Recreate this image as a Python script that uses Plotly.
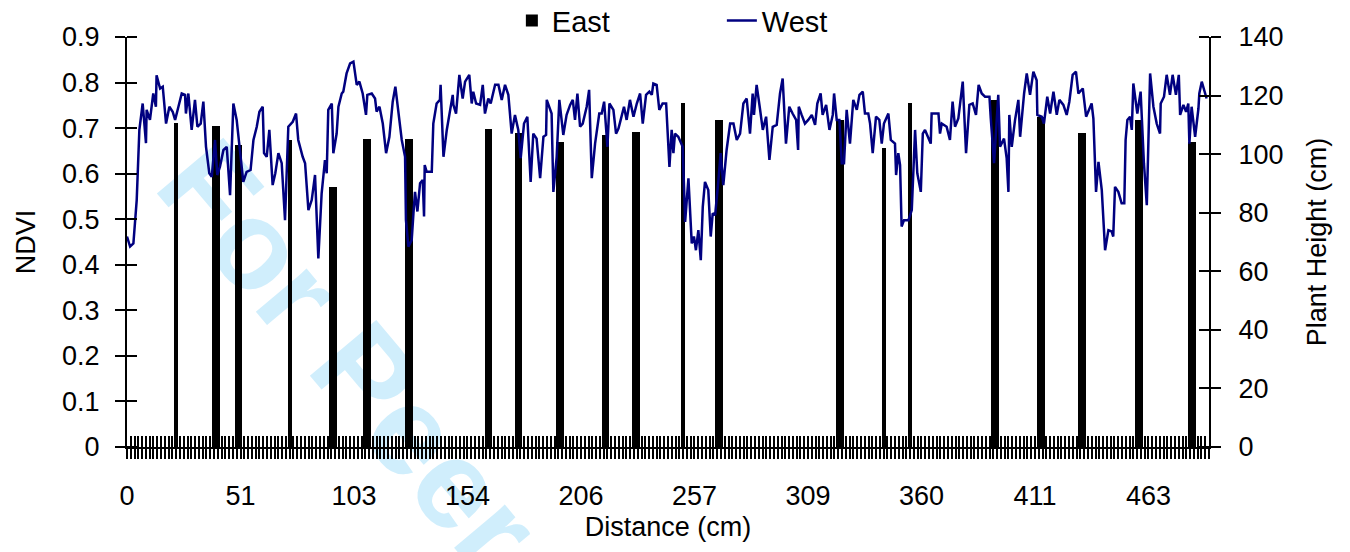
import plotly.graph_objects as go

# ---------------- data ----------------
step_cm = 12 / 7            # spacing of the distance categories
n_categories = 287
x_max_cm = (n_categories - 1) * step_cm

tick_values_cm = [0, 360/7, 720/7, 1080/7, 1440/7, 1800/7, 2160/7, 2520/7, 2880/7, 3240/7]
tick_labels = ["0", "51", "103", "154", "206", "257", "309", "360", "411", "463"]

# East: plant height (cm) bars
east_distance_cm = [22.3, 39.4, 41.1, 49.7, 51.4, 73.7, 92.6, 94.3, 108.0, 109.7,
                    126.9, 128.6, 162.9, 164.6, 176.6, 178.3, 195.4, 197.1, 216.0, 217.7,
                    229.7, 231.4, 252.0, 267.4, 269.1, 322.3, 324.0, 342.9, 354.9,
                    392.6, 394.3, 413.1, 414.9, 432.0, 433.7, 457.7, 459.4, 481.7, 483.4]
east_height_cm = [110.7, 109.6, 109.6, 103.0, 103.0, 105.0, 88.9, 88.9, 105.3, 105.3,
                  105.3, 105.3, 108.5, 108.5, 107.3, 107.3, 104.3, 104.3, 106.5, 106.5,
                  107.6, 107.6, 117.4, 111.7, 111.7, 111.7, 111.7, 102.0, 117.4,
                  118.5, 118.5, 112.8, 112.8, 107.1, 107.1, 111.7, 111.7, 104.3, 104.3]

# West: NDVI line
west_distance_cm = [
    0.0, 1.4, 2.9, 4.4, 5.6, 7.1, 8.6, 8.9, 10.4, 11.9, 13.1, 13.4, 15.0, 16.2, 17.7, 19.2,
    20.7, 21.8, 23.3, 24.8, 26.3, 26.7, 27.8, 29.3, 30.8, 31.9, 33.4, 34.6, 35.8, 37.3, 38.4,
    39.9, 40.9, 42.1, 43.7, 45.2, 46.7, 48.2, 49.7, 51.2, 52.7, 54.2, 56.0, 57.3, 58.8, 60.0,
    61.5, 62.1, 63.3, 64.5, 66.0, 67.2, 68.6, 70.1, 71.6, 73.1, 75.1, 76.6, 77.6, 79.6, 80.7,
    82.2, 83.7, 85.2, 86.7, 88.2, 89.7, 90.5, 91.2, 92.8, 93.5, 95.0, 95.8, 97.3, 98.0, 99.5,
    101.1, 102.6, 104.1, 105.3, 106.8, 108.3, 108.9, 110.9, 112.4, 113.1, 114.4, 115.9, 117.4,
    118.9, 120.4, 121.6, 123.0, 124.5, 126.0, 126.4, 127.5, 129.0, 129.8, 130.5, 131.6, 132.8,
    134.0, 134.6, 134.9, 135.8, 138.1, 138.8, 140.3, 141.8, 142.1, 143.4, 144.9, 146.4, 147.6,
    147.9, 149.1, 150.6, 152.1, 153.2, 155.1, 156.2, 156.9, 158.2, 160.0, 161.2, 162.2, 163.7,
    164.8, 166.8, 168.3, 169.8, 171.3, 172.8, 174.3, 175.8, 177.3, 178.4, 179.9, 181.4, 182.9,
    184.1, 185.6, 187.2, 188.7, 189.9, 190.2, 192.4, 193.2, 194.7, 195.9, 197.7, 199.2, 200.8,
    202.0, 203.0, 204.1, 205.3, 206.5, 208.3, 209.4, 210.6, 212.1, 214.0, 215.1, 216.2, 217.7,
    218.6, 220.4, 221.6, 222.7, 223.7, 225.2, 226.4, 227.9, 229.5, 231.0, 232.5, 233.7, 235.2,
    236.7, 237.8, 238.5, 240.0, 241.2, 242.7, 244.3, 245.8, 246.8, 247.6, 248.3, 249.8,
    251.8, 252.4, 252.9, 254.4, 255.9, 256.9, 257.8, 258.9, 260.0, 260.9, 261.9, 263.4, 264.5,
    265.4, 266.5, 268.0, 269.0, 270.2, 271.7, 273.3, 274.8, 276.3, 277.8, 279.3, 280.8, 282.3,
    283.5, 284.1, 285.3, 286.8, 288.1, 289.6, 291.1, 292.6, 294.4, 295.9, 297.1, 298.6, 300.1,
    301.6, 303.2, 304.1, 304.4, 305.7, 307.2, 308.7, 310.3, 311.8, 312.8, 314.3, 315.2, 316.8,
    318.3, 319.8, 320.4, 321.6, 322.8, 323.9, 324.9, 326.1, 327.6, 329.1, 330.7, 331.9, 333.4,
    334.4, 335.9, 336.7, 337.9, 339.4, 340.9, 342.0, 343.0, 345.0, 346.1, 348.0, 348.5, 349.5,
    350.3, 351.0, 352.1, 354.1, 355.6, 357.1, 358.1, 359.7, 360.6, 361.6, 364.2, 364.6, 367.7,
    368.4, 369.2, 371.4, 372.9,
    374.1, 375.2, 376.7, 378.7, 380.2, 381.7, 383.2, 384.7, 385.9, 387.3, 388.8, 390.8, 391.4,
    392.9, 394.8, 395.6, 397.4, 398.6, 399.4, 399.8, 400.9, 402.4, 403.9, 404.7, 406.5, 407.7,
    409.2, 410.7, 412.2, 412.5, 414.5, 415.5, 417.0, 418.3, 419.8, 421.3, 422.5, 424.3, 425.8,
    427.0, 428.5, 430.0, 431.1, 433.1, 434.6, 437.1, 437.9, 439.1, 440.2, 441.7, 443.2, 444.7,
    446.2, 446.9, 447.7, 449.2, 450.7, 451.9, 452.5, 453.3, 454.5, 455.3, 456.0, 457.8, 459.3,
    460.8, 462.1, 463.6, 465.1, 466.6, 468.1, 468.4, 469.9, 471.1, 472.6, 473.8, 475.3, 476.6,
    477.2, 478.7, 479.9, 480.9, 481.4, 482.4, 484.0, 485.5, 485.9, 487.0, 489.2]
west_ndvi = [
    0.462, 0.440, 0.447, 0.542, 0.696, 0.754, 0.667, 0.740, 0.718, 0.776, 0.747, 0.816, 0.787, 0.791, 0.710, 0.747,
    0.736, 0.718, 0.747, 0.776, 0.773, 0.732, 0.776, 0.696, 0.762, 0.703, 0.710, 0.758, 0.659, 0.601, 0.593,
    0.674, 0.597, 0.615, 0.652, 0.659, 0.553, 0.754, 0.718, 0.652, 0.582, 0.604, 0.608, 0.674, 0.703, 0.736,
    0.747, 0.645, 0.637, 0.696, 0.575, 0.601, 0.645, 0.623, 0.498, 0.703, 0.714, 0.732, 0.674, 0.637, 0.623,
    0.520, 0.542, 0.597, 0.414, 0.557, 0.630, 0.601, 0.740, 0.754, 0.645, 0.688, 0.747, 0.776, 0.780, 0.820,
    0.842, 0.846, 0.795, 0.802, 0.776, 0.729, 0.773, 0.776, 0.765, 0.736, 0.747, 0.710, 0.645,
    0.681, 0.758, 0.791, 0.732, 0.674, 0.637, 0.498, 0.440, 0.454, 0.513, 0.560, 0.517, 0.579,
    0.586, 0.506, 0.619, 0.604, 0.604, 0.710, 0.754, 0.762, 0.795, 0.637, 0.696, 0.740, 0.773,
    0.751, 0.732, 0.817, 0.765, 0.802, 0.817, 0.754, 0.780, 0.754, 0.751, 0.795, 0.732, 0.765,
    0.754, 0.795, 0.795, 0.762, 0.795, 0.773, 0.688, 0.729, 0.696, 0.634, 0.710, 0.725, 0.582,
    0.688, 0.677, 0.590, 0.681, 0.685, 0.762, 0.732, 0.560, 0.637, 0.762, 0.685, 0.729, 0.751,
    0.762, 0.718, 0.776, 0.703, 0.710, 0.747, 0.784, 0.590, 0.666, 0.732, 0.732, 0.758, 0.659,
    0.754, 0.740, 0.688, 0.699, 0.718, 0.747, 0.718, 0.762, 0.725, 0.754, 0.776, 0.710, 0.773,
    0.780, 0.773, 0.798, 0.795, 0.740, 0.754, 0.754, 0.615, 0.696, 0.645, 0.688, 0.681,
    0.659, 0.571, 0.494, 0.590, 0.447, 0.462, 0.432, 0.476, 0.410, 0.527, 0.582, 0.564, 0.462,
    0.513, 0.509, 0.586, 0.645, 0.575, 0.652, 0.710, 0.710, 0.674, 0.688, 0.754, 0.765, 0.688,
    0.776, 0.729, 0.795, 0.743, 0.696, 0.725, 0.630, 0.703, 0.707, 0.776, 0.809, 0.666, 0.747,
    0.732, 0.718, 0.652, 0.747, 0.729, 0.710, 0.718, 0.729, 0.707, 0.754, 0.776, 0.729, 0.751,
    0.696, 0.729, 0.776, 0.718, 0.718, 0.623, 0.623, 0.740, 0.666, 0.762, 0.740, 0.773, 0.780,
    0.732, 0.732, 0.710, 0.645, 0.725, 0.718, 0.666, 0.710, 0.732, 0.674, 0.666, 0.597, 0.645,
    0.619, 0.484, 0.498, 0.498, 0.520, 0.696, 0.601, 0.560, 0.688, 0.696, 0.666, 0.732, 0.732,
    0.688, 0.710, 0.703, 0.674,
    0.758, 0.703, 0.721, 0.802, 0.645, 0.751, 0.754, 0.729, 0.795, 0.776, 0.769, 0.769, 0.721,
    0.623, 0.773, 0.659, 0.677, 0.634, 0.560, 0.729, 0.659, 0.718, 0.762, 0.681, 0.776, 0.820,
    0.773, 0.824, 0.805, 0.729, 0.725, 0.710, 0.769, 0.732, 0.780, 0.729, 0.762, 0.751, 0.729,
    0.758, 0.817, 0.824, 0.776, 0.787, 0.725, 0.754, 0.721, 0.560, 0.626, 0.564, 0.432, 0.476,
    0.473, 0.462, 0.571, 0.560, 0.535, 0.535, 0.674, 0.718, 0.725, 0.696, 0.798, 0.732, 0.780,
    0.623, 0.531, 0.820, 0.747, 0.710, 0.688, 0.754, 0.769, 0.817, 0.773, 0.817, 0.773, 0.817,
    0.729, 0.751, 0.736, 0.754, 0.666, 0.747, 0.681, 0.743, 0.776, 0.802, 0.765]

# ---------------- figure ----------------
FONT = "Liberation Sans, Arial, sans-serif"
fig = go.Figure()

fig.add_trace(go.Bar(
    name="East", x=east_distance_cm, y=east_height_cm,
    width=1.75, marker=dict(color="black", line=dict(width=0)),
    xaxis="x", yaxis="y"))

fig.add_trace(go.Scatter(
    name="West", x=west_distance_cm, y=west_ndvi, mode="lines",
    line=dict(color="#000080", width=2.5),
    xaxis="x", yaxis="y2"))

# empty helper traces so that the tick-only overlay axes get drawn (crossing tick marks)
fig.add_trace(go.Scatter(x=[], y=[], xaxis="x2", yaxis="y3", showlegend=False, hoverinfo="skip"))
fig.add_trace(go.Scatter(x=[], y=[], xaxis="x", yaxis="y4", showlegend=False, hoverinfo="skip"))

axis_common = dict(showgrid=False, zeroline=False, color="black", automargin=False)
TW = 2.4

fig.update_layout(
    width=1342, height=544,
    margin=dict(l=119, r=141, t=29, b=105, autoexpand=False),
    paper_bgcolor="white", plot_bgcolor="white",
    font=dict(family=FONT, size=27, color="black"),
    showlegend=True,
    legend=dict(orientation="h", x=0.3557, xanchor="left", y=1.040, yanchor="middle",
                font=dict(size=29), entrywidth=165, entrywidthmode="pixels",
                bgcolor="rgba(0,0,0,0)", traceorder="normal"),
    bargap=0,
    xaxis=dict(**axis_common, range=[0, x_max_cm], anchor="y",
               showline=True, linewidth=2, linecolor="black",
               tickmode="array", tickvals=tick_values_cm, ticktext=tick_labels,
               ticks="outside", ticklen=10, tickwidth=TW, tickcolor="black",
               ticklabelstandoff=14,
               minor=dict(dtick=step_cm, tick0=0, ticks="outside", ticklen=10,
                          tickwidth=TW, tickcolor="black"),
               title=dict(text="Distance (cm)", standoff=7, font=dict(size=27))),
    xaxis2=dict(**axis_common, range=[0, x_max_cm], overlaying="x", anchor="y",
                side="bottom", showline=False, tickmode="linear", tick0=0, dtick=step_cm,
                ticks="inside", ticklen=11, tickwidth=TW, tickcolor="black",
                showticklabels=False),
    yaxis=dict(**axis_common, range=[0, 140], side="right", anchor="x",
               tickmode="linear", tick0=0, dtick=20,
               showline=True, linewidth=2, linecolor="black",
               ticks="outside", ticklen=10, tickwidth=2, tickcolor="black",
               ticklabelstandoff=12,
               minor=dict(tick0=1e-7, dtick=20, ticks="inside", ticklen=10,
                          tickwidth=2, tickcolor="black"),
               title=dict(text="Plant Height (cm)", standoff=25, font=dict(size=27))),
    yaxis2=dict(**axis_common, range=[0, 0.9], side="left", overlaying="y", anchor="x",
                tickmode="linear", tick0=0, dtick=0.1,
                showline=True, linewidth=2, linecolor="black",
                ticks="outside", ticklen=10, tickwidth=2, tickcolor="black",
                ticklabelstandoff=10,
                minor=dict(tick0=1e-9, dtick=0.1, ticks="inside", ticklen=10,
                           tickwidth=2, tickcolor="black"),
                title=dict(text="NDVI", standoff=19, font=dict(size=27))),
    yaxis3=dict(**axis_common, range=[0, 140], side="right", overlaying="y", anchor="x",
                tickmode="linear", tick0=0, dtick=20, showline=False,
                ticks="inside", ticklen=10, tickwidth=2, tickcolor="black",
                showticklabels=False),
    yaxis4=dict(**axis_common, range=[0, 0.9], side="left", overlaying="y", anchor="x",
                tickmode="linear", tick0=0, dtick=0.1, showline=False,
                ticks="inside", ticklen=10, tickwidth=2, tickcolor="black",
                showticklabels=False),
)

# journal watermark, drawn beneath the data
fig.add_shape(type="line", xref="paper", yref="paper",
              x0=0.0098, y0=0.6059, x1=0.5446, y1=-1.0756,
              line=dict(width=0, color="rgba(0,0,0,0)"), layer="below",
              label=dict(text="<b>For Peer Review</b>", textposition="start",
                         yanchor="bottom",
                         font=dict(family=FONT, size=126, color="rgb(208,238,252)")))

fig.write_html("out.html")
